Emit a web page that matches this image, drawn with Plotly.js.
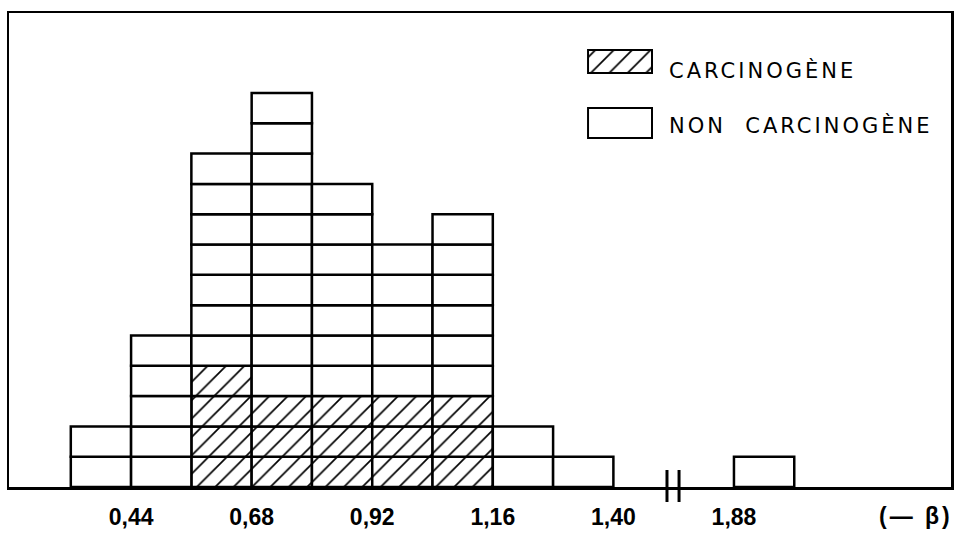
<!DOCTYPE html>
<html>
<head>
<meta charset="utf-8">
<script src="https://cdn.plot.ly/plotly-3.0.1.min.js"></script>
<style>
  html, body { margin: 0; padding: 0; background: #fff; }
  #chart { width: 957px; height: 534px; }
  .annotation-text { letter-spacing: 3px; }
</style>
</head>
<body>
<div id="chart"></div>
<script>
// ---- data ----
const binStart   = [0.32, 0.44, 0.56, 0.68, 0.80, 0.92, 1.04, 1.16, 1.28, 1.88]; // lower edge of each class (−β)
const binWidth   = 0.12;
const carcino    = [0, 0, 4, 3, 3, 3, 3, 0, 0, 0];   // carcinogenic compounds per class
const nonCarcino = [2, 5, 7, 10, 7, 5, 6, 2, 1, 1];  // non-carcinogenic compounds per class
const tickVals   = [0.44, 0.68, 0.92, 1.16, 1.40, 1.88];
const tickText   = ['0,44', '0,68', '0,92', '1,16', '1,40', '1,88'];
const seriesNames = ['CARCINOGÈNE', 'NON\u00a0\u00a0CARCINOGÈNE'];

// ---- axis break: values beyond the break are shifted left ----
const BREAK_AT = 1.6, BREAK_GAP = 0.24;
const bx = v => (v >= BREAK_AT ? v - BREAK_GAP : v);

// one unit box per compound
const cx = [], cb = [], nx = [], nb = [];
binStart.forEach((s, i) => {
  const c = bx(s + binWidth / 2);
  for (let k = 0; k < carcino[i]; k++) { cx.push(c); cb.push(k); }
  for (let k = 0; k < nonCarcino[i]; k++) { nx.push(c); nb.push(carcino[i] + k); }
});

const lineStyle = { color: '#000', width: 2.5 };
const hatch = { shape: '/', fgcolor: '#000', bgcolor: '#fff', size: 13, solidity: 0.13, fillmode: 'replace' };

const traces = [
  { type: 'bar', x: cx, y: cx.map(() => 1), base: cb, width: binWidth,
    marker: { color: '#fff', pattern: hatch, line: lineStyle }, name: seriesNames[0], showlegend: false },
  { type: 'bar', x: nx, y: nx.map(() => 1), base: nb, width: binWidth,
    marker: { color: '#fff', line: lineStyle }, name: seriesNames[1], showlegend: false },
  // legend swatches
  { type: 'bar', x: [0], y: [1], width: 1, xaxis: 'x2', yaxis: 'y2',
    marker: { color: '#fff', pattern: hatch, line: { color: '#000', width: 2 } }, showlegend: false },
  { type: 'bar', x: [0], y: [1], width: 1, xaxis: 'x3', yaxis: 'y3',
    marker: { color: '#fff', line: { color: '#000', width: 2 } }, showlegend: false }
];

const hidden = { visible: false, fixedrange: true };
const tickFont = { family: 'Liberation Sans, Arial, sans-serif', size: 23, weight: 'bold', color: '#000' };
const legendFont = { family: 'DejaVu Sans, sans-serif', size: 21, color: '#000' };
const layout = {
  width: 957, height: 534,
  margin: { l: 9, r: 6, t: 13, b: 47 },
  paper_bgcolor: '#fff', plot_bgcolor: '#fff',
  barmode: 'overlay', bargap: 0,
  showlegend: false,
  font: { family: 'Liberation Sans, Arial, sans-serif', color: '#000' },
  xaxis: {
    range: [0.197, 2.072], showgrid: false, zeroline: false,
    showline: true, mirror: true, linecolor: '#000', linewidth: 2.5,
    ticks: '', tickvals: tickVals.map(bx), ticktext: tickText,
    ticklabelstandoff: 8,
    tickfont: tickFont
  },
  yaxis: {
    range: [0, 15.64], showgrid: false, zeroline: false,
    showline: true, mirror: true, linecolor: '#000', linewidth: 2.5,
    ticks: '', showticklabels: false
  },
  xaxis2: Object.assign({ domain: [0.6079, 0.6894], range: [-0.6, 0.6], anchor: 'y2' }, hidden),
  yaxis2: Object.assign({ domain: [0.8637, 0.9316], range: [-0.2, 1.2], anchor: 'x2' }, hidden),
  xaxis3: Object.assign({ domain: [0.6079, 0.6894], range: [-0.6, 0.6], anchor: 'y3' }, hidden),
  yaxis3: Object.assign({ domain: [0.7236, 0.8122], range: [-0.2, 1.2], anchor: 'x3' }, hidden),
  annotations: [
    { text: seriesNames[0], xref: 'paper', yref: 'paper', x: 0.6985, y: 0.8797,
      xanchor: 'left', yanchor: 'middle', showarrow: false, font: legendFont },
    { text: seriesNames[1], xref: 'paper', yref: 'paper', x: 0.6985, y: 0.7637,
      xanchor: 'left', yanchor: 'middle', showarrow: false, font: legendFont },
    { text: '(—\u00a0β)', xref: 'paper', yref: 'paper', x: 1.004, y: -0.0612,
      xanchor: 'right', yanchor: 'middle', showarrow: false, font: tickFont }
  ],
  shapes: [
    { type: 'line', xref: 'paper', yref: 'paper', x0: 0.6985, x1: 0.6985, y0: 0.0359, y1: -0.0316,
      line: { color: '#000', width: 3 } },
    { type: 'line', xref: 'paper', yref: 'paper', x0: 0.7113, x1: 0.7113, y0: 0.0359, y1: -0.0316,
      line: { color: '#000', width: 3 } }
  ]
};

Plotly.newPlot('chart', traces, layout, { staticPlot: true, displayModeBar: false });
</script>
</body>
</html>
